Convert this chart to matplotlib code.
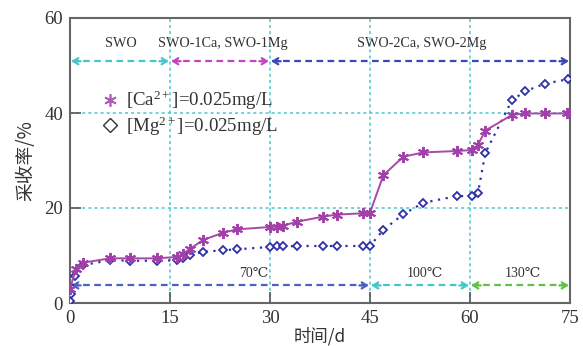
import matplotlib
matplotlib.use("Agg")
import matplotlib.pyplot as plt
from matplotlib.lines import Line2D

plt.rcParams["mathtext.fontset"] = "custom"
plt.rcParams["mathtext.rm"] = "Liberation Serif"
plt.rcParams["mathtext.it"] = "Liberation Serif:italic"

# ---- data ----
days_ca = [0, 0.9, 2, 6, 9, 13, 16, 17, 18, 20, 23, 25, 30, 31, 32, 34, 38, 40, 44, 45,
           47, 50, 53, 58, 60.3, 61.2, 62.3, 66.3, 68.3, 71.3, 74.5]
rec_ca = [3.0, 7.2, 8.5, 9.4, 9.4, 9.4, 9.7, 10.3, 11.4, 13.3, 14.8, 15.5, 16.0, 16.1, 16.3, 17.1,
          18.2, 18.6, 18.9, 19.0, 26.9, 30.8, 31.7, 32.0, 32.2, 33.3, 36.3, 39.6, 39.9, 39.9, 39.9]

days_mg = [0, 0.1, 0.8, 2, 6, 9, 13, 16, 17, 18, 20, 23, 25, 30, 31, 32, 34, 38, 40, 44, 45,
           47, 50, 53, 58, 60.3, 61.2, 62.3, 66.3, 68.3, 71.3, 74.7]
rec_mg = [0.4, 1.8, 5.6, 8.0, 9.0, 8.9, 8.9, 9.0, 9.5, 10.1, 10.8, 11.1, 11.3, 11.8, 11.9, 11.9,
          12.0, 12.0, 12.0, 12.0, 12.0, 15.4, 18.7, 21.1, 22.5, 22.5, 23.2, 31.6, 42.7, 44.6, 46.2, 47.1]

stage_bounds = [0, 15, 30, 75]
stage_labels = ["SWO", "SWO-1Ca, SWO-1Mg", "SWO-2Ca, SWO-2Mg"]
stage_label_x = [7.7, 22.9, 52.8]
stage_colors = ["#45c6c8", "#c245c0", "#3848b8"]

temp_bounds = [0, 45, 60, 75]
temp_labels = ["70\u2103", "100\u2103", "130\u2103"]
temp_label_x = [27.6, 53.2, 68.0]
temp_colors = ["#4a62c4", "#45c6c8", "#62c045"]

xticks = [0, 15, 30, 45, 60, 75]
yticks = [0, 20, 40, 60]

serif = ["Liberation Serif", "DejaVu Serif"]
cjk = ["Noto Sans CJK SC", "DejaVu Sans"]

fig = plt.figure(figsize=(5.83, 3.46), dpi=100)
ax = fig.add_axes([70/583, (346-303)/346, 500/583, 285/346])
ax.set_xlim(0, 75)
ax.set_ylim(0, 60)

# reference grid lines
for xv in [15, 30, 45, 60]:
    ax.axvline(xv, color="#4cc8cc", lw=1.1, ls=(0, (2, 2)), zorder=1)
for yv in [20, 40]:
    ax.axhline(yv, color="#4cc8cc", lw=1.1, ls=(0, (2, 2)), zorder=1)

asterisk = (6, 2, 0)

# data
ax.plot(days_ca, rec_ca, color="#a848a8", lw=1.4, marker=asterisk, ms=8, mew=1.4,
        mec="#a040a8", zorder=4)
ax.plot(days_mg, rec_mg, color="#2e30a8", lw=1.6, ls=(0, (1, 2.5)), marker="D", ms=4.5,
        mfc="white", mec="#2e30a8", mew=1.3, zorder=3)

def seg_arrow(x0, x1, y, c):
    ax.hlines(y, x0 + 0.3, x1 - 0.3, colors=c, lw=1.6, linestyles=(0, (3, 2)), zorder=2)
    ax.annotate("", xy=(x0 + 0.2, y), xytext=(x0 + 1.6, y),
                arrowprops=dict(arrowstyle="->,head_length=0.35,head_width=0.22", color=c, lw=1.6,
                                shrinkA=0, shrinkB=0), zorder=2)
    ax.annotate("", xy=(x1 - 0.2, y), xytext=(x1 - 1.6, y),
                arrowprops=dict(arrowstyle="->,head_length=0.35,head_width=0.22", color=c, lw=1.6,
                                shrinkA=0, shrinkB=0), zorder=2)

for i in range(3):
    seg_arrow(stage_bounds[i], stage_bounds[i+1], 50.9, stage_colors[i])
    ax.text(stage_label_x[i], 54.7, stage_labels[i], ha="center", va="center", fontsize=10.2,
            color="#333333", family=serif + cjk)
    seg_arrow(temp_bounds[i], temp_bounds[i+1], 3.7, temp_colors[i])
    ax.text(temp_label_x[i], 6.3, temp_labels[i], ha="center", va="center", fontsize=10,
            color="#333333", family=serif + cjk)

# legend
handles = [Line2D([], [], ls="none", marker=asterisk, ms=9, mew=1.2, mec="#b058b8"),
           Line2D([], [], ls="none", marker="D", ms=7, mfc="white", mec="#333333", mew=1.0)]
labels = [r"[Ca$^{\mathregular{2+}}$]=0.025mg/L", r"[Mg$^{\mathregular{2+}}$]=0.025mg/L"]
leg = ax.legend(handles, labels, loc="upper left", bbox_to_anchor=(0.045, 0.778), frameon=False,
                prop={"family": serif, "size": 13.6}, handletextpad=0.35, labelspacing=0.1,
                handlelength=1.0, borderaxespad=0)
for t in leg.get_texts():
    t.set_color("#333333")

ax.set_xticks(xticks)
ax.set_yticks(yticks)
ax.tick_params(direction="in", length=8, width=1.2, colors="#555555", labelcolor="#333333",
               labelsize=13.5, pad=5)
for lab in ax.get_xticklabels() + ax.get_yticklabels():
    lab.set_family(serif)
for s in ax.spines.values():
    s.set_color("#666666")
    s.set_linewidth(1.5)

ax.set_xlabel("时间/d", family=cjk, fontsize=12.5, color="#333333", labelpad=0)
ax.set_ylabel("采收率/%", family=cjk, fontsize=13.5, color="#333333", labelpad=6)

fig.savefig("out.png", dpi=100)
